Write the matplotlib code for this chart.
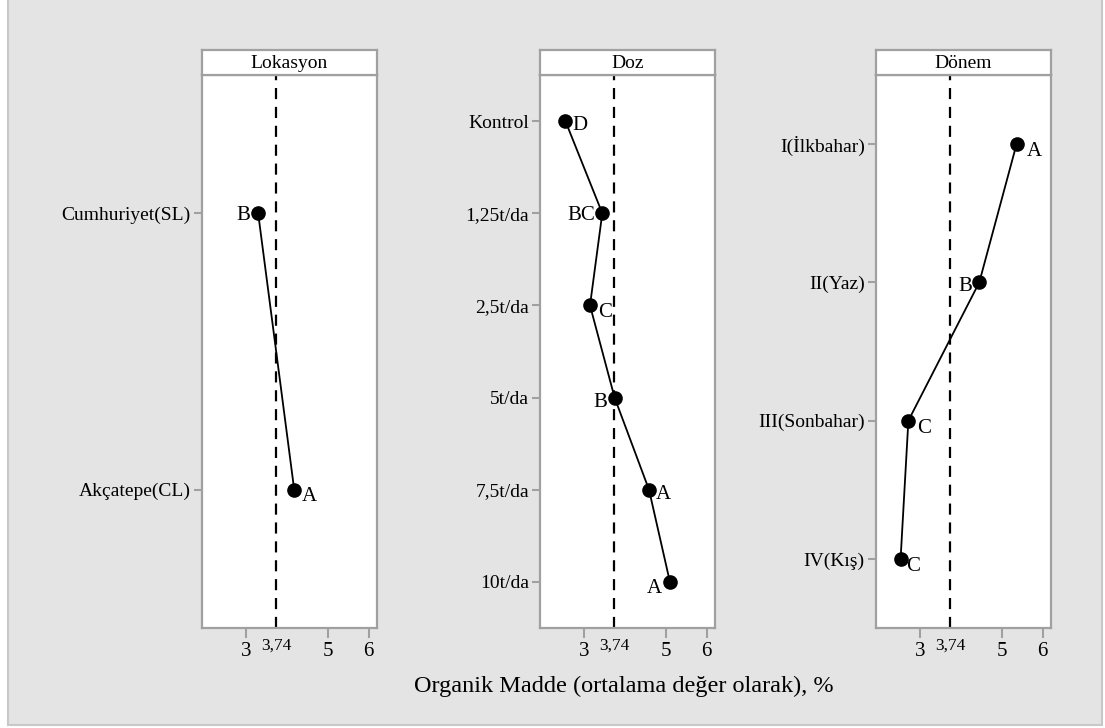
import matplotlib
matplotlib.use("Agg")
import matplotlib.pyplot as plt
from matplotlib.patches import Rectangle

plt.rcParams['font.family'] = ['Liberation Serif', 'DejaVu Serif']

# group means of organic matter (%) per factor
lok_names = ['Cumhuriyet(SL)', 'Akçatepe(CL)']
lok_vals = [3.30, 4.18]
lok_grp = ['B', 'A']

doz_names = ['Kontrol', '1,25t/da', '2,5t/da', '5t/da', '7,5t/da', '10t/da']
doz_vals = [2.55, 3.45, 3.15, 3.75, 4.59, 5.10]
doz_grp = ['D', 'BC', 'C', 'B', 'A', 'A']

don_names = ['I(İlkbahar)', 'II(Yaz)', 'III(Sonbahar)', 'IV(Kış)']
don_vals = [5.36, 4.45, 2.72, 2.53]
don_grp = ['A', 'B', 'C', 'C']

grand_mean = 3.74
xticks = [3, 5, 6]

# letter offsets in pixels (dx, dy) and alignment
lok_off = [(-8, -2, 'right'), (8, -7, 'left')]
doz_off = [(7, -4, 'left'), (-7, -2, 'right'), (8, -7, 'left'),
           (-7, -5, 'right'), (7, -5, 'left'), (-8, -7, 'right')]
don_off = [(10, -7, 'left'), (-7, -4, 'right'), (9, -8, 'left'), (6, -8, 'left')]

W, H = 1105, 728
fig = plt.figure(figsize=(W / 100, H / 100), dpi=100, facecolor='white')
fig.patches.append(Rectangle((8 / W, 3 / H), 1094 / W, 1, transform=fig.transFigure,
                             facecolor='#e4e4e4', edgecolor='#c8c8c8', lw=1.5, zorder=-10))

spine_c = '#a0a0a0'
panels = [
    ('Lokasyon', lok_names, lok_vals, lok_grp, lok_off, 202),
    ('Doz', doz_names, doz_vals, doz_grp, doz_off, 540),
    ('Dönem', don_names, don_vals, don_grp, don_off, 876),
]
ax_w, top, bot, head_h = 175, 75, 628, 25

for title, names, vals, grp, off, left in panels:
    ax = fig.add_axes([left / W, (H - bot) / H, ax_w / W, (bot - top) / H])
    n = len(names)
    ypos = list(range(n))
    ax.plot(vals, ypos, color='black', lw=1.3, marker='o', ms=9.5, zorder=3)
    ax.axvline(grand_mean, color='black', ls=(0, (5, 3.5)), lw=1.6, zorder=2)
    for v, y, g, (dx, dy, ha) in zip(vals, ypos, grp, off):
        ax.annotate(g, (v, y), xytext=(dx, dy), textcoords='offset pixels',
                    ha=ha, va='center', fontsize=15)
    ax.set_ylim(n - 0.5, -0.5)
    ax.set_xlim(1.93, 6.2)
    ax.set_yticks(ypos)
    ax.set_yticklabels(names, fontsize=14)
    ax.set_xticks(xticks)
    ax.set_xticklabels([str(t) for t in xticks], fontsize=15)
    ax.text(grand_mean, -0.017, '3,74', transform=ax.get_xaxis_transform(),
            ha='center', va='top', fontsize=12.5)
    ax.tick_params(axis='both', colors=spine_c, labelcolor='black', width=1.5)
    ax.tick_params(axis='y', length=6, pad=2)
    ax.tick_params(axis='x', length=7, pad=3)
    for s in ax.spines.values():
        s.set_color(spine_c)
        s.set_linewidth(1.6)

    hx = fig.add_axes([left / W, (H - top) / H, ax_w / W, head_h / H])
    hx.set_xticks([])
    hx.set_yticks([])
    for s in hx.spines.values():
        s.set_color(spine_c)
        s.set_linewidth(1.6)
    hx.text(0.5, 0.45, title, ha='center', va='center', fontsize=14, transform=hx.transAxes)

fig.text(624 / W, (H - 686) / H, 'Organik Madde (ortalama değer olarak), %',
         ha='center', va='center', fontsize=17.5)

fig.savefig('out.png', dpi=100, facecolor=fig.get_facecolor())
